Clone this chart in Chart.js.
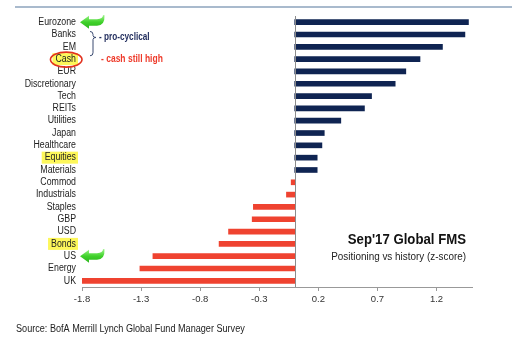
<!DOCTYPE html>
<html>
<head>
<meta charset="utf-8">
<script src="https://cdn.jsdelivr.net/npm/chart.js@4.4.1/dist/chart.umd.min.js"></script>
<style>
  html, body { margin: 0; padding: 0; background: #ffffff; }
  canvas { display: block; }
</style>
</head>
<body>
<canvas id="fms" width="527" height="347"></canvas>
<script>
// Global fund manager positioning vs history, z-scores
const categories = ['Eurozone', 'Banks', 'EM', 'Cash', 'EUR', 'Discretionary', 'Tech', 'REITs',
  'Utilities', 'Japan', 'Healthcare', 'Equities', 'Materials', 'Commod', 'Industrials',
  'Staples', 'GBP', 'USD', 'Bonds', 'US', 'Energy', 'UK'];
const zScores = [1.47, 1.44, 1.25, 1.06, 0.94, 0.85, 0.65, 0.59, 0.39, 0.25, 0.23, 0.19, 0.19,
  -0.03, -0.07, -0.35, -0.36, -0.56, -0.64, -1.20, -1.31, -1.80];
const tickValues = [-1.8, -1.3, -0.8, -0.3, 0.2, 0.7, 1.2];
const highlighted = ['Cash', 'Equities', 'Bonds'];
const arrowed = ['Eurozone', 'US'];

const NAVY = '#0f2452';
const RED = '#ef4330';
const FAMILY = '"Liberation Sans", Arial, sans-serif';
const LABEL_FONT = '10px ' + FAMILY;
const SQUASH = 0.88;   // narrow, Helvetica-Narrow-like lettering

function squashedText(ctx, text, x, y, align, sx) {
  ctx.save();
  ctx.translate(x, y);
  ctx.scale(sx, 1);
  ctx.textAlign = align;
  ctx.textBaseline = 'middle';
  ctx.fillText(text, 0, 0);
  ctx.restore();
}

function greenArrow(ctx, tipX, y) {
  // left-pointing block arrow with a slightly bent tail
  ctx.save();
  const g = ctx.createLinearGradient(0, y - 6, 0, y + 6);
  g.addColorStop(0, '#8ef07a');
  g.addColorStop(0.5, '#3fd12a');
  g.addColorStop(1, '#2fb81f');
  ctx.fillStyle = g;
  ctx.beginPath();
  ctx.moveTo(tipX, y);
  ctx.lineTo(tipX + 9, y - 6.5);
  ctx.lineTo(tipX + 9, y - 3);
  ctx.lineTo(tipX + 17, y - 3);
  ctx.quadraticCurveTo(tipX + 23, y - 3.5, tipX + 23, y - 7);
  ctx.lineTo(tipX + 24.5, y - 7);
  ctx.quadraticCurveTo(tipX + 25, y + 3.5, tipX + 17, y + 3.5);
  ctx.lineTo(tipX + 9, y + 3.5);
  ctx.lineTo(tipX + 9, y + 6.5);
  ctx.closePath();
  ctx.fill();
  ctx.restore();
}

const decorations = {
  id: 'fmsDecorations',
  beforeDraw(chart) {
    const ctx = chart.ctx;
    const yScale = chart.scales.y;
    const labelRight = yScale.right - 6;

    // category labels are drawn by the scale, narrowed about their right edge
    if (!yScale._narrowed) {
      const orig = yScale.drawLabels;
      yScale.drawLabels = function (area) {
        const c = this.ctx;
        c.save();
        c.translate(labelRight, 0);
        c.scale(SQUASH, 1);
        c.translate(-labelRight, 0);
        orig.call(this, area);
        c.restore();
      };
      yScale._narrowed = true;
    }

    ctx.save();
    // light rule across the top
    ctx.strokeStyle = '#a9bacd';
    ctx.lineWidth = 2;
    ctx.beginPath();
    ctx.moveTo(15, 7);
    ctx.lineTo(512, 7);
    ctx.stroke();
    // yellow highlight behind selected category labels
    ctx.font = LABEL_FONT;
    highlighted.forEach(name => {
      const y = yScale.getPixelForValue(categories.indexOf(name));
      const w = ctx.measureText(name).width * SQUASH;
      ctx.fillStyle = '#fdf75a';
      ctx.fillRect(labelRight - w - 3, y - 6, w + 5, 12);
    });
    ctx.restore();
  },
  afterDraw(chart) {
    const ctx = chart.ctx;
    const xScale = chart.scales.x;
    const yScale = chart.scales.y;
    const area = chart.chartArea;
    const labelRight = yScale.right - 6;
    ctx.save();

    // zero line
    const x0 = Math.round(xScale.getPixelForValue(0)) + 0.5;
    ctx.strokeStyle = '#8c8c8c';
    ctx.lineWidth = 1;
    ctx.beginPath();
    ctx.moveTo(x0, area.top);
    ctx.lineTo(x0, area.bottom);
    ctx.stroke();

    // arrows
    arrowed.forEach(name => {
      const y = yScale.getPixelForValue(categories.indexOf(name));
      greenArrow(ctx, labelRight + 4, y);
    });

    // ellipse round "Cash"
    ctx.font = LABEL_FONT;
    const cy = yScale.getPixelForValue(categories.indexOf('Cash'));
    const cw = ctx.measureText('Cash').width * SQUASH;
    ctx.strokeStyle = '#e2321f';
    ctx.lineWidth = 1.6;
    ctx.beginPath();
    ctx.ellipse(labelRight - cw / 2 + 0.5, cy + 0.5, cw / 2 + 5.5, 7.5, 0, 0, Math.PI * 2);
    ctx.stroke();

    // brace grouping Banks / EM
    const by0 = yScale.getPixelForValue(1) - 3;
    const by1 = yScale.getPixelForValue(2) + 9;
    const bx = 92;
    const mid = by0 + 6;
    ctx.strokeStyle = '#3a4a70';
    ctx.lineWidth = 1;
    ctx.beginPath();
    ctx.moveTo(bx - 2, by0);
    ctx.quadraticCurveTo(bx + 1, by0, bx + 1, by0 + 3);
    ctx.lineTo(bx + 1, mid - 2);
    ctx.quadraticCurveTo(bx + 1, mid, bx + 4, mid);
    ctx.quadraticCurveTo(bx + 1, mid, bx + 1, mid + 2);
    ctx.lineTo(bx + 1, by1 - 3);
    ctx.quadraticCurveTo(bx + 1, by1, bx - 2, by1);
    ctx.stroke();

    // notes
    ctx.font = 'bold 10px ' + FAMILY;
    ctx.fillStyle = '#1f2b5c';
    squashedText(ctx, '- pro-cyclical', bx + 7, mid, 'left', 0.82);
    ctx.fillStyle = '#ee3a2a';
    squashedText(ctx, '- cash still high', bx + 9, cy, 'left', 0.85);

    // chart caption
    ctx.fillStyle = '#111111';
    ctx.font = 'bold 14.5px ' + FAMILY;
    squashedText(ctx, "Sep'17 Global FMS", 466, 240, 'right', 0.91);
    ctx.fillStyle = '#222222';
    ctx.font = '11px ' + FAMILY;
    squashedText(ctx, 'Positioning vs history (z-score)', 466, 257, 'right', 0.9);

    // source line
    ctx.font = '10px ' + FAMILY;
    ctx.fillStyle = '#222222';
    squashedText(ctx, 'Source: BofA Merrill Lynch Global Fund Manager Survey', 16, 329, 'left', 0.91);
    ctx.restore();
  }
};

new Chart(document.getElementById('fms'), {
  type: 'bar',
  data: {
    labels: categories,
    datasets: [{
      data: zScores,
      backgroundColor: zScores.map(v => (v >= 0 ? NAVY : RED)),
      borderWidth: 0,
      barThickness: 5
    }]
  },
  options: {
    indexAxis: 'y',
    responsive: false,
    animation: false,
    devicePixelRatio: 1,
    layout: { padding: { left: 0, right: 55, top: 16, bottom: 30 } },
    plugins: { legend: { display: false }, tooltip: { enabled: false } },
    scales: {
      x: {
        type: 'linear',
        min: -1.8,
        max: 1.5,
        afterBuildTicks: s => { s.ticks = tickValues.map(v => ({ value: v })); },
        afterFit: s => { s.height = 30; },
        ticks: {
          autoSkip: false,
          maxRotation: 0,
          padding: 3,
          color: '#333333',
          font: { size: 9.5, family: FAMILY },
          callback: v => Number(v).toFixed(1)
        },
        grid: { drawOnChartArea: false, drawTicks: true, tickLength: 4, color: '#999999' },
        border: { color: '#999999', width: 1 }
      },
      y: {
        type: 'category',
        afterFit: s => { s.width = 82; },
        ticks: {
          autoSkip: false,
          padding: 6,
          color: '#222222',
          font: { size: 10, family: FAMILY }
        },
        grid: { display: false, drawTicks: false },
        border: { display: false }
      }
    }
  },
  plugins: [decorations]
});
</script>
</body>
</html>
